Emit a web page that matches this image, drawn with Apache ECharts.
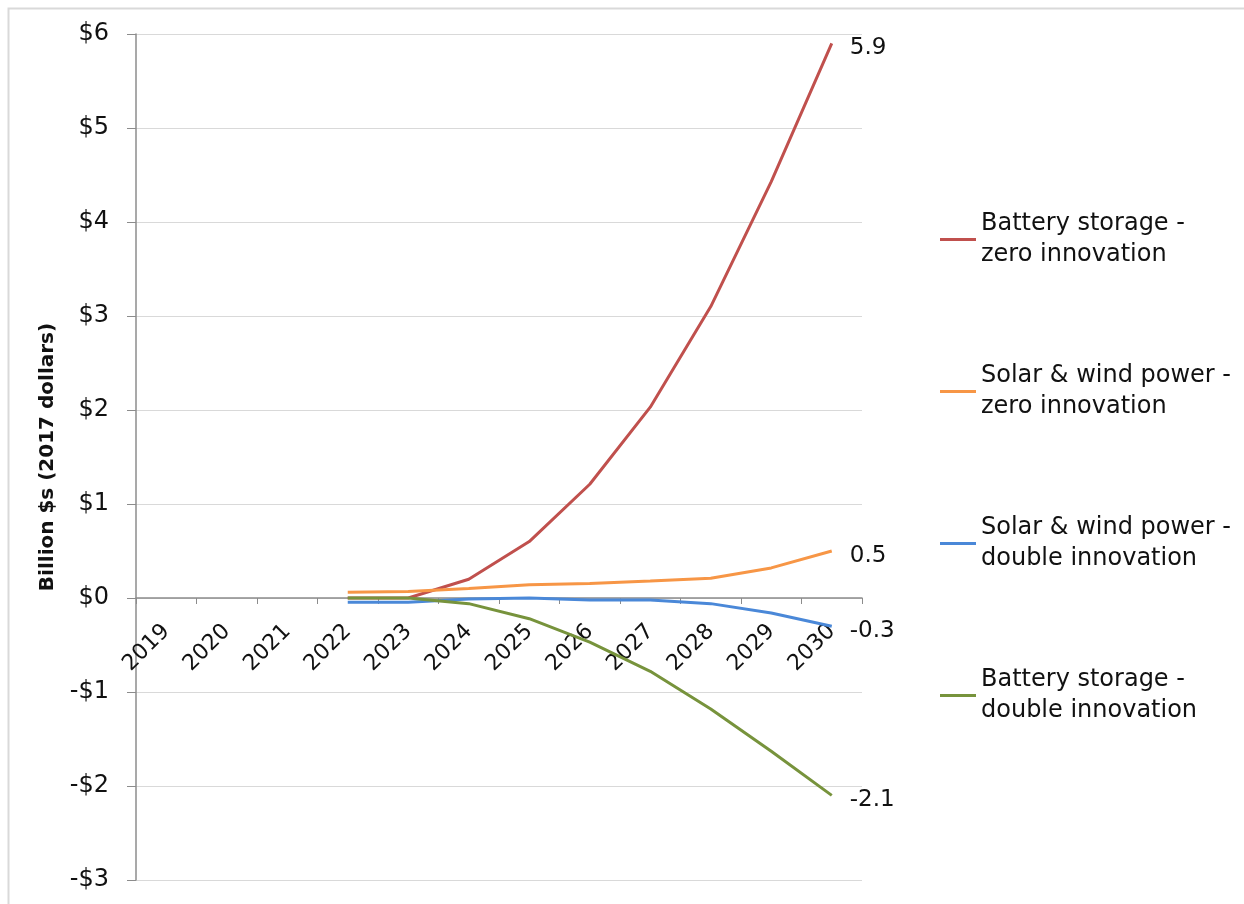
<!DOCTYPE html>
<html>
<head>
<meta charset="utf-8">
<script src="https://cdn.jsdelivr.net/npm/echarts@6/dist/echarts.min.js"></script>
<style>
  html, body { margin: 0; padding: 0; background: #fff; }
  #chart { width: 1244px; height: 904px; }
</style>
</head>
<body>
<div id="chart"></div>
<script>
// Projected cost difference, billion 2017 dollars
const years = ['2019', '2020', '2021', '2022', '2023', '2024', '2025', '2026', '2027', '2028', '2029', '2030'];
const batteryZero   = [null, null, null, 0.00, 0.00, 0.20, 0.60, 1.21, 2.03, 3.10, 4.43, 5.9];
const solarZero     = [null, null, null, 0.06, 0.07, 0.10, 0.14, 0.155, 0.18, 0.21, 0.32, 0.5];
const solarDouble   = [null, null, null, -0.045, -0.045, -0.01, 0.00, -0.02, -0.02, -0.06, -0.16, -0.3];
const batteryDouble = [null, null, null, 0.00, 0.00, -0.06, -0.22, -0.47, -0.78, -1.18, -1.63, -2.1];
const yTicks = [-3, -2, -1, 0, 1, 2, 3, 4, 5, 6];

const FONT = 'DejaVu Sans';
const GRID = { left: 136, right: 382, top: 34, bottom: 24 };

function lineSeries(name, data, color) {
  return {
    name: name,
    type: 'line',
    data: data,
    symbol: 'none',
    smooth: false,
    connectNulls: false,
    lineStyle: { color: color, width: 3 },
    itemStyle: { color: color },
    endLabel: {
      show: true,
      distance: 18,
      offset: [0, 5],
      fontFamily: FONT,
      fontSize: 23,
      color: '#111',
      formatter: p => String(p.value)
    }
  };
}

const chart = echarts.init(document.getElementById('chart'), null, { renderer: 'canvas' });

chart.setOption({
  animation: false,
  backgroundColor: '#ffffff',
  graphic: [{
    type: 'rect',
    left: 6, top: 6,
    shape: { width: 1400, height: 1100 },
    style: { fill: 'none', stroke: '#d9d9d9', lineWidth: 2 },
    silent: true
  }],
  grid: Object.assign({ containLabel: false, outerBoundsMode: 'none' }, GRID),
  legend: {
    orient: 'vertical',
    left: 940,
    top: 193,
    padding: 0,
    itemGap: 59,
    itemWidth: 36,
    itemHeight: 3,
    icon: 'path://M0,0H36V3H0Z',
    textStyle: {
      fontFamily: FONT,
      fontSize: 24,
      color: '#111',
      lineHeight: 31,
      padding: [31, 0, 0, 0]
    },
    data: [
      'Battery storage -\nzero innovation',
      'Solar & wind power -\nzero innovation',
      'Solar & wind power -\ndouble innovation',
      'Battery storage -\ndouble innovation'
    ]
  },
  xAxis: {
    type: 'category',
    data: years,
    boundaryGap: true,
    position: 'bottom',
    offset: 0,
    axisLine: { onZero: false, lineStyle: { color: '#8c8c8c', width: 1.5 } },
    axisTick: { show: true, interval: 0, length: 6, lineStyle: { color: '#8c8c8c' } },
    axisLabel: {
      interval: 0,
      rotate: 45,
      margin: 30,
      fontFamily: FONT,
      fontSize: 22,
      color: '#111'
    },
    splitLine: { show: false }
  },
  yAxis: {
    type: 'value',
    min: yTicks[0],
    max: yTicks[yTicks.length - 1],
    interval: 1,
    name: 'Billion $s (2017 dollars)',
    nameLocation: 'middle',
    nameRotate: 90,
    nameGap: 78,
    nameTextStyle: { fontFamily: FONT, fontSize: 20, fontWeight: 'bold', color: '#111' },
    axisLine: { show: true, lineStyle: { color: '#8c8c8c', width: 1.5 } },
    axisTick: { show: true, length: 9, lineStyle: { color: '#8c8c8c' } },
    axisLabel: {
      margin: 27,
      fontFamily: FONT,
      fontSize: 24,
      color: '#111',
      formatter: v => (v < 0 ? '-$' + Math.abs(v) : '$' + v)
    },
    splitLine: { show: true, lineStyle: { color: '#d9d9d9', width: 1 } }
  },
  series: [
    lineSeries('Battery storage -\nzero innovation', batteryZero, '#C0504D'),
    lineSeries('Solar & wind power -\nzero innovation', solarZero, '#F79646'),
    lineSeries('Solar & wind power -\ndouble innovation', solarDouble, '#4A88D8'),
    lineSeries('Battery storage -\ndouble innovation', batteryDouble, '#77933C')
  ]
});

// Lift the category axis (line, ticks and labels) up onto the $0 line
const zeroY = chart.convertToPixel({ yAxisIndex: 0 }, 0);
const bottomY = chart.getHeight() - GRID.bottom;
chart.setOption({ xAxis: { offset: zeroY - bottomY } });
</script>
</body>
</html>
